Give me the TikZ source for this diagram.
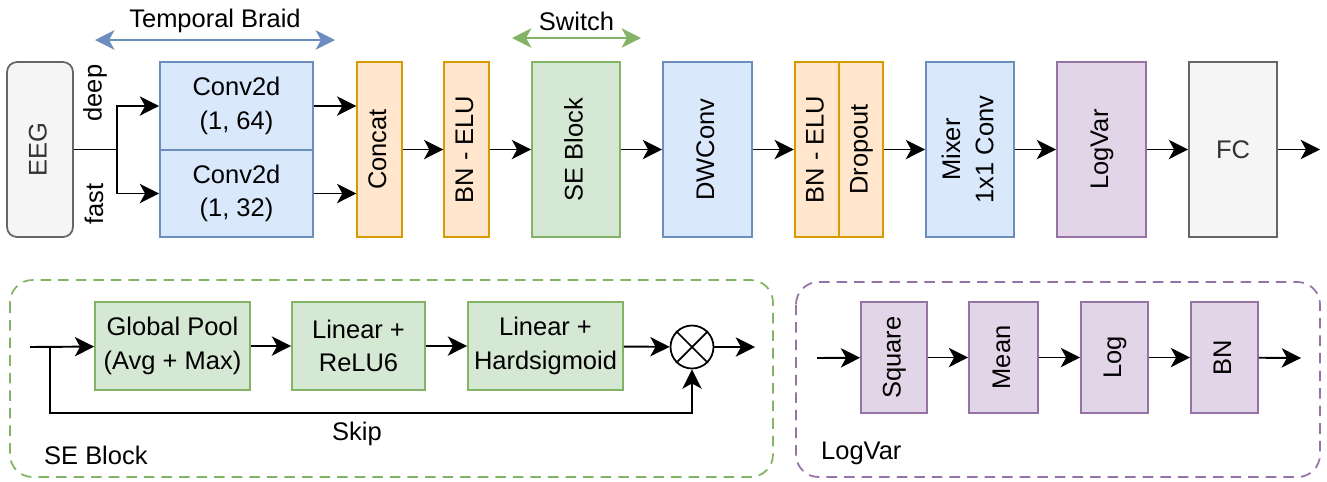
\documentclass[tikz,border=0pt]{standalone}
\usepackage{fontspec}
\setmainfont{Liberation Sans}
\usetikzlibrary{arrows.meta}

\definecolor{blueF}  {HTML}{DAE8FC}
\definecolor{blueD}  {HTML}{6C8EBF}
\definecolor{orangeF}{HTML}{FFE6CC}
\definecolor{orangeD}{HTML}{D79B00}
\definecolor{greenF} {HTML}{D5E8D4}
\definecolor{greenD} {HTML}{82B366}
\definecolor{purpF}  {HTML}{E1D5E7}
\definecolor{purpD}  {HTML}{9673A6}
\definecolor{grayF}  {HTML}{F5F5F5}
\definecolor{grayD}  {HTML}{666666}
\definecolor{grayT}  {HTML}{333333}

\newcommand{\vtext}[1]{\rotatebox{90}{\begin{tabular}{@{}c@{}}#1\end{tabular}}}

\tikzset{
  every node/.style={font=\fontsize{14.5}{19}\selectfont},
  box/.style={draw, line width=1pt, inner sep=0pt, minimum height=3.5cm},
  bluebox/.style={box, draw=blueD, fill=blueF},
  orangebox/.style={box, draw=orangeD, fill=orangeF, minimum width=0.89cm},
  greenbox/.style={box, draw=greenD, fill=greenF},
  purpbox/.style={box, draw=purpD, fill=purpF},
  graybox/.style={box, draw=grayD, fill=grayF, text=grayT},
  arr/.style={line width=1.1pt, ->},
  frame/.style={line width=1pt, dash pattern=on 6pt off 4pt, rounded corners=0.45cm},
}

\begin{document}
\begin{tikzpicture}[x=0.02cm, y=-0.02cm, >={Stealth[length=11pt,width=11pt,inset=3pt]}]
    \useasboundingbox (0,0) rectangle (1327,481);

    % main chain
    \node[graybox, rounded corners=0.2cm, minimum width=1.32cm] (eeg) at (40,149.5) {\vtext{EEG}};
    \node[bluebox, minimum width=3.06cm, minimum height=1.76cm, align=center] (conva) at (236.5,106) {Conv2d\\(1, 64)};
    \node[bluebox, minimum width=3.06cm, minimum height=1.74cm, align=center] (convb) at (236.5,193.5) {Conv2d\\(1, 32)};
    \node[orangebox] (concat) at (379.5,149.5) {\vtext{Concat}};
    \node[orangebox] (bnA) at (466.5,149.5) {\vtext{BN - ELU}};
    \node[greenbox, minimum width=1.76cm] (se) at (576,149.5) {\vtext{SE Block}};
    \node[bluebox, minimum width=1.78cm] (dw) at (707.5,149.5) {\vtext{DWConv}};
    \node[orangebox] (bnB) at (817,149.5) {\vtext{BN - ELU}};
    \node[orangebox] (drop) at (861,149.5) {\vtext{Dropout}};
    \node[bluebox, minimum width=1.76cm] (mix) at (970,149.5) {\vtext{Mixer\\1x1 Conv}};
    \node[purpbox, minimum width=1.78cm] (lv) at (1101.5,149.5) {\vtext{LogVar}};
    \node[graybox, minimum width=1.76cm] (fc) at (1233,149.5) {FC};
    \coordinate (jn) at (117,149.5);
    \coordinate (out) at (1320,149.5);

    \node (deep) at (95,93) {\rotatebox{90}{deep}};
    \node (fast) at (94,204) {\rotatebox{90}{fast}};

    \draw[line width=1.1pt] (eeg) -- (jn);
    \draw[arr] (jn) |- (conva);
    \draw[arr] (jn) |- (convb);
    \draw[arr] (conva.east) -- (conva.east -| concat.west);
    \draw[arr] (convb.east) -- (convb.east -| concat.west);
    \foreach \a/\b in {concat/bnA, bnA/se, se/dw, dw/bnB, drop/mix, mix/lv, lv/fc, fc/out}
      \draw[arr] (\a) -- (\b);

    % spans on top
    \coordinate (tbL) at (95,40);
    \coordinate (tbR) at (335,40);
    \draw[<->, line width=1.3pt, blueD] (tbL) -- (tbR) node[midway, above, text=black] (tb) {Temporal Braid};
    \coordinate (swL) at (512,38);
    \coordinate (swR) at (641,38);
    \draw[<->, line width=1.3pt, greenD] (swL) -- (swR) node[midway, above, text=black] (sw) {Switch};

    % SE block detail
    \draw[frame, greenD] (10,280) rectangle (773,477);
    \node[greenbox, minimum width=3.1cm, minimum height=1.76cm, align=center] (gp) at (172.5,346) {Global Pool\\(Avg + Max)};
    \node[greenbox, minimum width=2.66cm, minimum height=1.76cm, align=center] (lr) at (358.5,346) {Linear +\\ReLU6};
    \node[greenbox, minimum width=3.1cm, minimum height=1.76cm, align=center] (lh) at (545.5,346) {Linear +\\Hardsigmoid};
    \node[draw, circle, line width=1pt, fill=white, minimum size=0.86cm, inner sep=0pt] (mul) at (692,347) {};
    \draw[line width=1pt] (mul.north east) -- (mul.south west) (mul.north west) -- (mul.south east);
    \coordinate (seIn) at (30,347);
    \coordinate (sk) at (50,347);
    \coordinate (seOut) at (755,347);
    \draw[arr] (seIn) -- (gp);
    \foreach \a/\b in {gp/lr, lr/lh, lh/mul, mul/seOut}
      \draw[arr] (\a) -- (\b);
    \draw[arr] (sk) -- (50,413) -| (mul.south);
    \node (skip) at (357,434) {Skip};
    \node[anchor=west] (seLab) at (38,455) {SE Block};

    % LogVar detail
    \draw[frame, purpD] (796,282) rectangle (1320,477);
    \node[purpbox, minimum width=1.32cm, minimum height=2.22cm] (sq) at (894,357.5) {\vtext{Square}};
    \node[purpbox, minimum width=1.38cm, minimum height=2.22cm] (mn) at (1003.5,357.5) {\vtext{Mean}};
    \node[purpbox, minimum width=1.34cm, minimum height=2.22cm] (lg) at (1114.5,357.5) {\vtext{Log}};
    \node[purpbox, minimum width=1.34cm, minimum height=2.22cm] (bn) at (1224.5,357.5) {\vtext{BN}};
    \coordinate (lvIn) at (817,358);
    \coordinate (lvOut) at (1301,358);
    \foreach \a/\b in {lvIn/sq, sq/mn, mn/lg, lg/bn, bn/lvOut}
      \draw[arr] (\a) -- (\b);
    \node[anchor=west] (lvLab) at (815,453) {LogVar};
  \end{tikzpicture}
\end{document}
